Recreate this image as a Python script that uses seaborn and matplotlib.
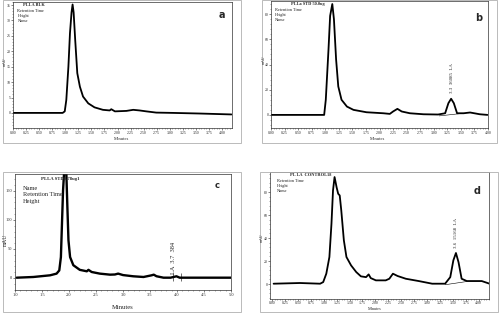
import numpy as np
import pandas as pd
import matplotlib
matplotlib.use('Agg')
from matplotlib import pyplot as plt
from matplotlib.patches import Rectangle
from matplotlib.ticker import AutoMinorLocator
import seaborn as sns

sns.set_style('white')
plt.rcParams['font.family'] = ['Liberation Serif', 'DejaVu Serif']

# ---- data ----
a_time = [0.00, 0.50, 0.95, 0.99, 1.02, 1.06, 1.09, 1.12, 1.14, 1.16, 1.19, 1.23, 1.28,
          1.34, 1.44, 1.56, 1.72, 1.85, 1.88, 1.95, 2.17, 2.30, 2.42, 2.55, 2.74, 3.06,
          3.57, 4.18]
a_signal = [0.0, 0.0, 0.0, 0.5, 4.2, 15.0, 25.9, 32.6, 35.2, 32.6, 23.7, 12.9, 8.5,
            5.3, 3.1, 1.8, 1.0, 0.8, 1.2, 0.5, 0.65, 1.0, 0.8, 0.5, 0.1, 0.0,
            -0.2, -0.5]

b_time = [0.00, 0.50, 0.98, 1.01, 1.06, 1.09, 1.13, 1.16, 1.20, 1.24, 1.30, 1.40, 1.52,
          1.76, 2.07, 2.19, 2.25, 2.33, 2.41, 2.56, 2.81, 3.08, 3.21, 3.27, 3.32, 3.37,
          3.43, 3.55, 3.67, 3.85, 3.99]
b_signal = [0.0, 0.0, 0.0, 12.0, 52.0, 78.6, 88.0, 76.0, 44.0, 22.6, 12.0, 6.6, 4.0,
            2.1, 1.3, 0.8, 2.7, 4.8, 2.7, 1.3, 0.5, 0.3, 1.3, 9.3, 12.8, 9.3,
            1.3, 1.3, 1.9, 0.5, 0.0]
b_base_time = [3.10, 3.55]
b_base_signal = [-0.8, 1.3]

c_time = [1.03, 1.34, 1.65, 1.77, 1.82, 1.85, 1.87, 1.89, 1.91, 1.93, 1.95, 1.97, 1.99,
          2.02, 2.08, 2.20, 2.33, 2.36, 2.42, 2.57, 2.76, 2.85, 2.91, 3.00, 3.19, 3.38,
          3.53, 3.57, 3.62, 3.75, 3.88, 3.99, 4.05, 4.43, 5.00]
c_signal = [0.5, 1.7, 4.6, 7.5, 13.0, 36.0, 94.0, 151.0, 183.0, 230.0, 183.0, 122.0, 65.0,
            36.0, 22.0, 14.0, 11.5, 14.0, 10.3, 7.5, 5.7, 6.0, 7.5, 5.0, 2.9, 1.7,
            4.6, 5.7, 3.0, 0.5, 0.5, 2.9, 0.5, 0.5, 0.5]

d_time = [0.03, 0.54, 0.93, 0.99, 1.05, 1.11, 1.15, 1.18, 1.21, 1.25, 1.28, 1.31, 1.34,
          1.39, 1.44, 1.53, 1.63, 1.72, 1.82, 1.87, 1.91, 2.01, 2.20, 2.27, 2.34, 2.43,
          2.59, 2.84, 3.10, 3.35, 3.45, 3.51, 3.56, 3.61, 3.67, 3.77, 4.06, 4.23]
d_signal = [0.3, 0.9, 0.3, 1.7, 9.0, 23.5, 52.4, 81.4, 93.0, 84.0, 78.5, 77.0, 64.0,
            38.0, 23.5, 16.2, 10.4, 6.7, 6.0, 8.4, 5.2, 3.2, 3.2, 4.6, 9.0, 7.0,
            4.6, 2.6, 0.3, 0.3, 6.0, 20.6, 27.0, 19.0, 4.6, 2.6, 2.6, 0.0]
d_base_time = [3.35, 3.77]
d_base_signal = [-0.6, 2.2]

abd_xticks = [0.0, 0.25, 0.5, 0.75, 1.0, 1.25, 1.5, 1.75, 2.0, 2.25, 2.5, 2.75, 3.0,
              3.25, 3.5, 3.75, 4.0]
c_xticks = [1.0, 1.5, 2.0, 2.5, 3.0, 3.5, 4.0, 4.5, 5.0]
a_yticks = [0, 5, 10, 15, 20, 25, 30, 35]
b_yticks = [0, 20, 40, 60, 80]
c_yticks = [0, 50, 100, 150]
d_yticks = [0, 20, 40, 60, 80]

fig = plt.figure(figsize=(5, 3.14), dpi=100)

# light grey frames around each panel (pixel boxes)
for x0, y0, x1, y1 in [(3, 0, 241, 143), (262, 0, 497, 143), (3, 172, 241, 312), (260, 172, 498, 312)]:
    fig.patches.append(Rectangle((x0 / 500, 1 - y1 / 314), (x1 - x0) / 500, (y1 - y0) / 314,
                                 transform=fig.transFigure, fill=False, lw=0.6, ec='#b0b0b0'))

def px_axes(x0, y0, x1, y1):
    return fig.add_axes([x0 / 500, 1 - y1 / 314, (x1 - x0) / 500, (y1 - y0) / 314])

def style(ax, xt, yt, xfmt, lbl_size=2.8):
    ax.set_xticks(xt)
    ax.set_xticklabels([xfmt.format(v) for v in xt], fontsize=lbl_size)
    ax.set_yticks(yt)
    ax.set_yticklabels([str(v) for v in yt], fontsize=lbl_size)
    ax.xaxis.set_minor_locator(AutoMinorLocator(5))
    ax.yaxis.set_minor_locator(AutoMinorLocator(5))
    ax.tick_params(which='major', length=1.2, width=0.4, pad=0.6, direction='out',
                   bottom=True, left=True)
    ax.tick_params(which='minor', length=0.7, width=0.3, direction='out',
                   bottom=True, left=True)
    for s in ax.spines.values():
        s.set_linewidth(0.5)
        s.set_color('#333333')
    ax.set_ylabel('')
    ax.set_xlabel('')

# ---- panel a ----
ax = px_axes(13, 2, 232, 128)
sns.lineplot(x=a_time, y=a_signal, ax=ax, color='black', lw=1.3, sort=False, estimator=None)
ax.set_xlim(0, 4.19)
ax.set_ylim(-4.9, 36)
style(ax, abd_xticks, a_yticks, '{:.2f}')
ax.text(0.045, 0.99, 'PLLA BLK', transform=ax.transAxes, fontsize=3.2, fontweight='bold', va='top')
ax.text(0.02, 0.945, 'Retention Time\nHeight\nName', transform=ax.transAxes, fontsize=3.2,
        va='top', linespacing=1.3)
ax.text(0.94, 0.9, 'a', transform=ax.transAxes, fontsize=7, fontweight='bold',
        family='DejaVu Sans', va='center')
fig.text(5 / 500, 1 - 62 / 314, 'mAU', rotation=90, fontsize=2.8, ha='center', va='center')
fig.text(122 / 500, 1 - 138.5 / 314, 'Minutes', fontsize=3.3, ha='center', va='center')

# ---- panel b ----
ax = px_axes(271, 1, 488, 128)
sns.lineplot(x=b_time, y=b_signal, ax=ax, color='black', lw=1.3, sort=False, estimator=None)
sns.lineplot(x=b_base_time, y=b_base_signal, ax=ax, color='black', lw=0.4, sort=False, estimator=None)
ax.set_xlim(0, 4.0)
ax.set_ylim(-10.4, 90.4)
style(ax, abd_xticks, b_yticks, '{:.2f}')
ax.text(0.09, 0.99, 'PLLa STD 50.0ug', transform=ax.transAxes, fontsize=3.2, fontweight='bold', va='top')
ax.text(0.02, 0.945, 'Retention Time\nHeight\nName', transform=ax.transAxes, fontsize=3.2,
        va='top', linespacing=1.3)
ax.text(0.94, 0.87, 'b', transform=ax.transAxes, fontsize=7, fontweight='bold',
        family='DejaVu Sans', va='center')
ax.text(3.33, 17, '3.3  36085  LA', rotation=90, fontsize=3.5, ha='center', va='bottom')
fig.text(263.5 / 500, 1 - 60 / 314, 'mAU', rotation=90, fontsize=2.8, ha='center', va='center')
fig.text(378 / 500, 1 - 138.5 / 314, 'Minutes', fontsize=3.3, ha='center', va='center')

# ---- panel c ----
ax = px_axes(15, 174, 231, 290)
sns.lineplot(x=c_time, y=c_signal, ax=ax, color='black', lw=1.7, sort=False, estimator=None)
ax.set_xlim(1.0, 5.0)
ax.set_ylim(-20.7, 179)
style(ax, c_xticks, c_yticks, '{:.1f}', lbl_size=3.2)
ax.text(0.12, 0.97, 'PLLA STD0.78ug1', transform=ax.transAxes, fontsize=3.4, fontweight='bold', va='top')
ax.text(0.035, 0.9, 'Name\nRetention Time\nHeight', transform=ax.transAxes, fontsize=4.6,
        va='top', linespacing=1.45)
ax.text(0.925, 0.9, 'c', transform=ax.transAxes, fontsize=6, fontweight='bold',
        family='DejaVu Sans', va='center')
ax.text(3.93, 7, 'LA  3.7  384', rotation=90, fontsize=4.6, ha='center', va='bottom')
ax.vlines([3.92, 4.08], -5, 9, color='black', lw=0.4)
fig.text(5 / 500, 1 - 240 / 314, 'mAU', rotation=90, fontsize=4, ha='center', va='center')
fig.text(123 / 500, 1 - 307.5 / 314, 'Minutes', fontsize=4.8, ha='center', va='center')

# ---- panel d ----
ax = px_axes(270, 172, 489, 299)
sns.lineplot(x=d_time, y=d_signal, ax=ax, color='black', lw=1.3, sort=False, estimator=None)
sns.lineplot(x=d_base_time, y=d_base_signal, ax=ax, color='black', lw=0.4, sort=False, estimator=None)
ax.set_xlim(-0.04, 4.2)
ax.set_ylim(-13, 97.4)
style(ax, abd_xticks, d_yticks, '{:.2f}')
ax.text(0.09, 0.99, 'PL LA  CONTROL18', transform=ax.transAxes, fontsize=3.2, fontweight='bold', va='top')
ax.text(0.03, 0.945, 'Retention Time\nHeight\nName', transform=ax.transAxes, fontsize=3.2,
        va='top', linespacing=1.3)
ax.text(0.93, 0.85, 'd', transform=ax.transAxes, fontsize=7, fontweight='bold',
        family='DejaVu Sans', va='center')
ax.text(3.56, 31, '3.6  15168  LA', rotation=90, fontsize=3.5, ha='center', va='bottom')
fig.text(262 / 500, 1 - 238 / 314, 'mAU', rotation=90, fontsize=2.8, ha='center', va='center')
fig.text(375 / 500, 1 - 308.5 / 314, 'Minutes', fontsize=3.1, ha='center', va='center')

fig.savefig('out.png', dpi=100)
